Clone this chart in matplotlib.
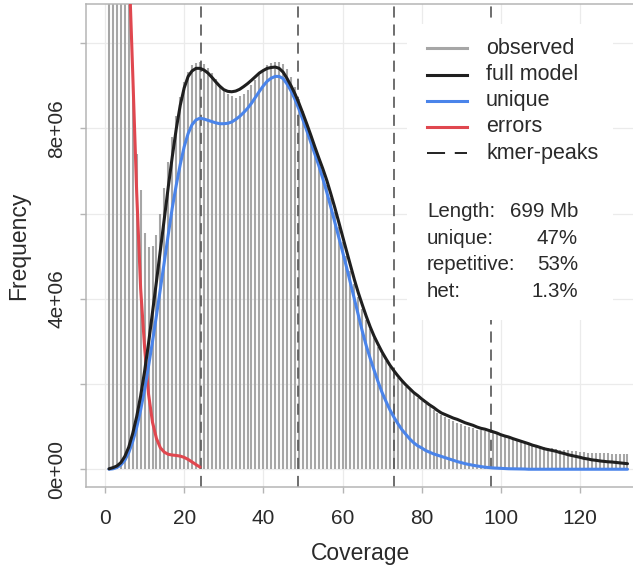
import numpy as np
import matplotlib
matplotlib.use("Agg")
import matplotlib.pyplot as plt
from matplotlib.patches import Rectangle
from matplotlib.lines import Line2D

plt.rcParams['font.family'] = ['Liberation Sans', 'DejaVu Sans']
plt.rcParams['lines.scale_dashes'] = False

# ---------------- data (frequencies in units of 1e6) ----------------
coverage = np.arange(1, 133)
observed = [50.0, 37.5, 27.9, 21.2, 16.4, 13.1, 9.0, 7.4, 6.55, 5.55,
            5.22, 5.25, 5.50, 6.00, 6.60, 7.20, 7.80, 8.30, 8.73, 9.08,
            9.32, 9.48, 9.54, 9.55, 9.50, 9.42, 9.29, 9.16, 9.03, 8.91,
            8.81, 8.75, 8.72, 8.75, 8.81, 8.90, 9.01, 9.13, 9.26, 9.38,
            9.48, 9.54, 9.57, 9.56, 9.50, 9.39, 9.20, 8.97, 8.70, 8.41,
            8.10, 7.81, 7.53, 7.25, 6.97, 6.68, 6.36, 6.03, 5.69, 5.34,
            5.00, 4.66, 4.34, 4.04, 3.77, 3.51, 3.28, 3.07, 2.88, 2.71,
            2.55, 2.41, 2.28, 2.15, 2.04, 1.94, 1.85, 1.76, 1.68, 1.60,
            1.53, 1.46, 1.40, 1.33, 1.27, 1.22, 1.17, 1.13, 1.09, 1.05,
            1.02, 0.99, 0.96, 0.93, 0.91, 0.89, 0.87, 0.85, 0.82, 0.79,
            0.76, 0.74, 0.71, 0.68, 0.65, 0.63, 0.61, 0.59, 0.56, 0.54,
            0.52, 0.50, 0.49, 0.47, 0.46, 0.45, 0.44, 0.43, 0.42, 0.41,
            0.40, 0.39, 0.38, 0.38, 0.375, 0.37, 0.37, 0.36, 0.36, 0.35,
            0.35, 0.35]
full_model = [0.01, 0.037, 0.076, 0.155, 0.30, 0.52, 0.84, 1.235, 1.72, 2.30,
              2.96, 3.68, 4.41, 5.16, 5.91, 6.64, 7.34, 7.99, 8.54, 8.95,
              9.22, 9.35, 9.41, 9.41, 9.37, 9.30, 9.20, 9.09, 8.99, 8.91,
              8.87, 8.86, 8.876, 8.917, 8.98, 9.05, 9.13, 9.215, 9.30, 9.36,
              9.41, 9.43, 9.44, 9.41, 9.32, 9.17, 9.00, 8.81, 8.59, 8.35,
              8.10, 7.84, 7.57, 7.31, 7.06, 6.79, 6.48, 6.16, 5.82, 5.47,
              5.13, 4.79, 4.45, 4.14, 3.86, 3.59, 3.34, 3.12, 2.93, 2.75,
              2.59, 2.44, 2.31, 2.19, 2.08, 1.98, 1.89, 1.80, 1.73, 1.65,
              1.58, 1.51, 1.45, 1.38, 1.32, 1.28, 1.24, 1.20, 1.17, 1.13,
              1.09, 1.06, 1.03, 0.99, 0.96, 0.94, 0.91, 0.88, 0.85, 0.81,
              0.78, 0.755, 0.72, 0.69, 0.66, 0.63, 0.60, 0.565, 0.54, 0.51,
              0.48, 0.46, 0.44, 0.42, 0.39, 0.37, 0.34, 0.32, 0.30, 0.28,
              0.255, 0.24, 0.22, 0.21, 0.195, 0.185, 0.175, 0.17, 0.16, 0.15,
              0.14, 0.13]
unique = [0.0, 0.01, 0.04, 0.10, 0.21, 0.39, 0.65, 0.98, 1.39, 1.87,
          2.42, 3.00, 3.61, 4.24, 4.88, 5.52, 6.14, 6.67, 7.15, 7.57,
          7.88, 8.09, 8.20, 8.24, 8.22, 8.19, 8.16, 8.13, 8.11, 8.11,
          8.12, 8.15, 8.21, 8.28, 8.37, 8.47, 8.59, 8.73, 8.87, 9.00,
          9.11, 9.18, 9.22, 9.22, 9.17, 9.04, 8.88, 8.68, 8.45, 8.20,
          7.94, 7.67, 7.40, 7.13, 6.83, 6.51, 6.17, 5.82, 5.46, 5.11,
          4.75, 4.37, 3.98, 3.60, 3.24, 2.90, 2.60, 2.32, 2.05, 1.80,
          1.59, 1.39, 1.22, 1.07, 0.93, 0.82, 0.71, 0.62, 0.55, 0.50,
          0.44, 0.40, 0.36, 0.33, 0.30, 0.27, 0.24, 0.21, 0.18, 0.155,
          0.13, 0.11, 0.093, 0.076, 0.062, 0.048, 0.039, 0.03, 0.025, 0.02,
          0.016, 0.011, 0.01, 0.01, 0.007, 0.005, 0.0, 0.0, 0.0, 0.0,
          0.0, 0.0, 0.0, 0.0, 0.0, 0.0, 0.0, 0.0, 0.0, 0.0,
          0.0, 0.0, 0.0, 0.0, 0.0, 0.0, 0.0, 0.0, 0.0, 0.0,
          0.0, 0.0]
error_coverage = np.arange(1, 25)
errors = [44.0, 34.2, 26.1, 20.0, 15.4, 12.0, 9.3, 6.5, 4.24, 2.86,
          1.76, 1.10, 0.72, 0.50, 0.40, 0.35, 0.333, 0.323, 0.308, 0.278,
          0.23, 0.17, 0.108, 0.05]
kmer_peaks = [24.35, 48.7, 73.05, 97.4]

x_ticks = [0, 20, 40, 60, 80, 100, 120]
y_ticks = [0, 2e6, 4e6, 6e6, 8e6, 10e6]
y_tick_labels = ['0e+00', '', '4e+06', '', '8e+06', '']
legend_labels = ['observed', 'full model', 'unique', 'errors', 'kmer-peaks']
stat_names = ['Length:', 'unique:', 'repetitive:', 'het:']
stat_values = ['699 Mb', '47%', '53%', '1.3%']

SCALE = 1e6
C_HIST = '#a6a6a6'
C_FULL = '#1f1f1f'
C_UNIQ = '#4a84ea'
C_ERR = '#e0474f'
C_PEAK = '#555555'
C_GRID = '#ebebeb'
C_BOX = '#b5b5b5'
C_TXT = '#2a2a2a'

# ---------------- figure ----------------
W, H = 633, 572
fig = plt.figure(figsize=(W / 100, H / 100), dpi=100)
fig.patch.set_facecolor('white')

def fx(px):
    return px / W

def fy(py):
    return 1 - py / H

ax = fig.add_axes([fx(85.5), fy(486.7), (636.2 - 85.5) / W, (486.7 - 4) / H])
ax.set_xlim(-4.93, 134.2)
ax.set_ylim(-0.41e6, 10.92e6)

for xv in x_ticks:
    ax.axvline(xv, color=C_GRID, lw=0.9, zorder=0)
for yv in y_ticks:
    ax.axhline(yv, color=C_GRID, lw=0.9, zorder=0)

ax.vlines(coverage, 0, np.array(observed) * SCALE, color=C_HIST, lw=1.5, zorder=1)
for p in kmer_peaks:
    ax.axvline(p, color=C_PEAK, lw=1.2, dashes=(8, 5), zorder=2)
ax.plot(error_coverage, np.array(errors) * SCALE, color=C_ERR, lw=2.2, zorder=3,
        solid_capstyle='round')
ax.plot(coverage, np.array(unique) * SCALE, color=C_UNIQ, lw=2.2, zorder=4,
        solid_capstyle='round')
ax.plot(coverage, np.array(full_model) * SCALE, color=C_FULL, lw=2.2, zorder=5,
        solid_capstyle='round')

for s in ax.spines.values():
    s.set_color(C_BOX)
    s.set_linewidth(1.1)

ax.set_xticks(x_ticks)
ax.set_xticklabels([str(v) for v in x_ticks])
ax.set_yticks(y_ticks)
ax.set_yticklabels(y_tick_labels)
ax.tick_params(axis='both', color=C_BOX, width=1.0, length=4, labelsize=15,
               labelcolor=C_TXT)
ax.tick_params(axis='x', pad=12)
ax.tick_params(axis='y', pad=10)
for lab in ax.get_yticklabels():
    lab.set_rotation(90)
    lab.set_va('center')
    lab.set_ha('right')

ax.set_xlabel('Coverage', fontsize=16.5, color=C_TXT, labelpad=10)
ax.set_ylabel('Frequency', fontsize=16.5, color=C_TXT, labelpad=12)

# ---------------- legend + statistics box ----------------
fig.add_artist(Rectangle((fx(407), fy(320)), (613 - 407) / W, (320 - 24) / H,
                         transform=fig.transFigure, facecolor='white',
                         edgecolor='none', zorder=1))

handles = [dict(color=C_HIST, dashes=None), dict(color=C_FULL, dashes=None),
           dict(color=C_UNIQ, dashes=None), dict(color=C_ERR, dashes=None),
           dict(color='#222222', dashes=(13, 7))]
leg_y = [48.3, 74.5, 100.5, 126.7, 153.0]
for lab, h, yy in zip(legend_labels, handles, leg_y):
    ln = Line2D([fx(427), fx(467)], [fy(yy), fy(yy)], transform=fig.transFigure,
                color=h['color'], lw=2.2 if h['dashes'] is None else 1.4, zorder=2)
    if h['dashes'] is not None:
        ln.set_dashes(h['dashes'])
    fig.add_artist(ln)
    fig.text(fx(486), fy(yy), lab, fontsize=15.5, color=C_TXT, va='center',
             ha='left', zorder=3)

stat_y = [211.7, 238.3, 265.0, 291.7]
for name, val, yy in zip(stat_names, stat_values, stat_y):
    fig.text(fx(427), fy(yy), name, fontsize=14.8, color=C_TXT, va='center',
             ha='left', zorder=3)
    fig.text(fx(578), fy(yy), val, fontsize=14.8, color=C_TXT, va='center',
             ha='right', zorder=3)

fig.savefig('out.png', dpi=100)
